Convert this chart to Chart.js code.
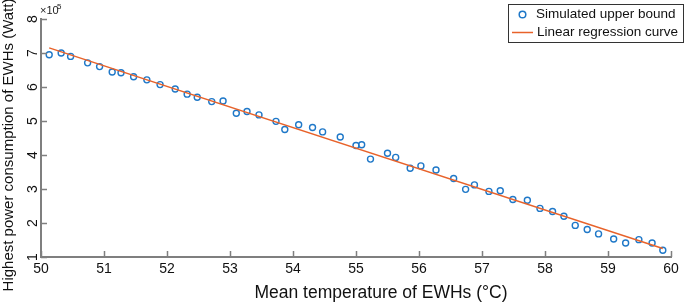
<!DOCTYPE html>
<html>
<head>
<meta charset="utf-8">
<script src="https://cdn.jsdelivr.net/npm/chart.js"></script>
<style>
  html, body { margin: 0; padding: 0; background: #fff; }
  #wrap { position: relative; width: 685px; height: 303px; }
</style>
</head>
<body>
<div id="wrap"><canvas id="chart"></canvas></div>
<script>
  // simulated upper bound (temperature in °C, power in x10^5 W)
  const tempC = [50.13, 50.32, 50.47, 50.74, 50.93, 51.13, 51.27, 51.47, 51.68, 51.89,
    52.13, 52.32, 52.48, 52.71, 52.89, 53.10, 53.27, 53.46, 53.73, 53.87,
    54.09, 54.31, 54.47, 54.75, 55.00, 55.09, 55.23, 55.50, 55.63, 55.86,
    56.03, 56.27, 56.55, 56.74, 56.88, 57.11, 57.29, 57.49, 57.72, 57.92,
    58.12, 58.30, 58.48, 58.67, 58.85, 59.09, 59.28, 59.49, 59.70, 59.87];
  const powerE5 = [6.95, 7.00, 6.90, 6.71, 6.60, 6.44, 6.42, 6.30, 6.21, 6.07,
    5.94, 5.79, 5.70, 5.57, 5.59, 5.23, 5.28, 5.18, 4.99, 4.75,
    4.89, 4.81, 4.68, 4.53, 4.28, 4.30, 3.88, 4.05, 3.93, 3.61,
    3.68, 3.56, 3.31, 2.99, 3.12, 2.93, 2.95, 2.69, 2.67, 2.43,
    2.34, 2.20, 1.93, 1.81, 1.68, 1.53, 1.41, 1.51, 1.41, 1.20];

  // linear regression curve end points
  const regX = [50.13, 59.87];
  const regY = [7.15, 1.25];

  const xTicks = [50, 51, 52, 53, 54, 55, 56, 57, 58, 59, 60];
  const yTicks = [1, 2, 3, 4, 5, 6, 7, 8];

  const xTitle = 'Mean temperature of EWHs (\u00b0C)';
  const yTitle = 'Highest power consumption of EWHs (Watt)';

  const FONT = '"Liberation Sans", Arial, sans-serif';
  const AXIS = '#7f7f7f';

  const pts = tempC.map((t, i) => ({x: t, y: powerE5[i]}));
  const reg = regX.map((t, i) => ({x: t, y: regY[i]}));

  // inward ticks, rotated y labels, titles, exponent and legend box
  const extras = {
    id: 'extras',
    afterDraw(chart) {
      const ctx = chart.ctx;
      const xs = chart.scales.x, ys = chart.scales.y;
      const a = chart.chartArea;
      ctx.save();
      ctx.strokeStyle = AXIS;
      ctx.lineWidth = 1.5;
      ctx.beginPath();
      xTicks.forEach(v => {
        const px = Math.round(xs.getPixelForValue(v)) + 0.5;
        ctx.moveTo(px, a.bottom);
        ctx.lineTo(px, a.bottom - 6);
      });
      yTicks.forEach(v => {
        const py = Math.round(ys.getPixelForValue(v)) + 0.5;
        ctx.moveTo(a.left, py);
        ctx.lineTo(a.left + 6, py);
      });
      ctx.stroke();

      // y tick labels, rotated as in the original figure
      ctx.fillStyle = '#111';
      ctx.font = '14px ' + FONT;
      ctx.textAlign = 'center';
      ctx.textBaseline = 'middle';
      yTicks.forEach(v => {
        const py = ys.getPixelForValue(v);
        ctx.save();
        ctx.translate(33, py);
        ctx.rotate(-Math.PI / 2);
        ctx.fillText(String(v), 0, 0);
        ctx.restore();
      });

      // axis titles
      ctx.font = '17.5px ' + FONT;
      ctx.textBaseline = 'alphabetic';
      ctx.fillText(xTitle, 381, 298);
      ctx.save();
      ctx.translate(9, 145);
      ctx.rotate(-Math.PI / 2);
      ctx.font = '15px ' + FONT;
      ctx.textBaseline = 'middle';
      ctx.fillText(yTitle, 0, 0);
      ctx.restore();

      // x10^5
      ctx.textAlign = 'left';
      ctx.fillStyle = '#222';
      ctx.textBaseline = 'alphabetic';
      ctx.font = '11px ' + FONT;
      ctx.fillText('\u00d710', 40, 14);
      ctx.font = '8px ' + FONT;
      ctx.fillText('5', 57, 9);

      // legend
      ctx.fillStyle = '#fff';
      ctx.fillRect(508, 4.5, 176, 38);
      ctx.strokeStyle = '#333';
      ctx.lineWidth = 1;
      ctx.strokeRect(508.5, 4.5, 175, 38);
      ctx.strokeStyle = '#1f78c8';
      ctx.lineWidth = 1.5;
      ctx.beginPath();
      ctx.arc(522.5, 14.5, 3.3, 0, Math.PI * 2);
      ctx.stroke();
      ctx.strokeStyle = '#e8622a';
      ctx.beginPath();
      ctx.moveTo(512, 32.5);
      ctx.lineTo(533, 32.5);
      ctx.stroke();
      ctx.fillStyle = '#111';
      ctx.font = '13.5px ' + FONT;
      ctx.textBaseline = 'middle';
      ctx.fillText('Simulated upper bound', 536, 14.5);
      ctx.fillText('Linear regression curve', 537, 32.5);
      ctx.restore();
    }
  };

  new Chart(document.getElementById('chart'), {
    type: 'scatter',
    data: {
      datasets: [
        {
          label: 'Simulated upper bound',
          data: pts,
          pointStyle: 'circle',
          pointRadius: 3,
          pointBorderWidth: 1.4,
          borderColor: '#1f78c8',
          backgroundColor: 'rgba(0,0,0,0)',
          order: 2
        },
        {
          label: 'Linear regression curve',
          data: reg,
          showLine: true,
          pointRadius: 0,
          borderColor: '#e8622a',
          borderWidth: 1.5,
          order: 1
        }
      ]
    },
    options: {
      responsive: true,
      maintainAspectRatio: false,
      animation: false,
      layout: { padding: { top: 19, right: 14, left: 0, bottom: 0 } },
      plugins: { legend: { display: false }, tooltip: { enabled: false } },
      scales: {
        x: {
          type: 'linear',
          min: 50, max: 60,
          afterBuildTicks: s => { s.ticks = xTicks.map(v => ({value: v})); },
          afterFit: s => { s.height = 46; },
          grid: { display: false, drawTicks: false },
          border: { display: true, color: AXIS, width: 2 },
          ticks: { color: '#111', padding: 4, maxRotation: 0, font: { family: FONT, size: 14 } },
          title: { display: false }
        },
        y: {
          type: 'linear',
          min: 1, max: 8,
          afterBuildTicks: s => { s.ticks = yTicks.map(v => ({value: v})); },
          afterFit: s => { s.width = 41; },
          grid: { display: false, drawTicks: false },
          border: { display: true, color: AXIS, width: 2 },
          ticks: { display: false },
          title: { display: false }
        }
      }
    },
    plugins: [extras]
  });
</script>
</body>
</html>
